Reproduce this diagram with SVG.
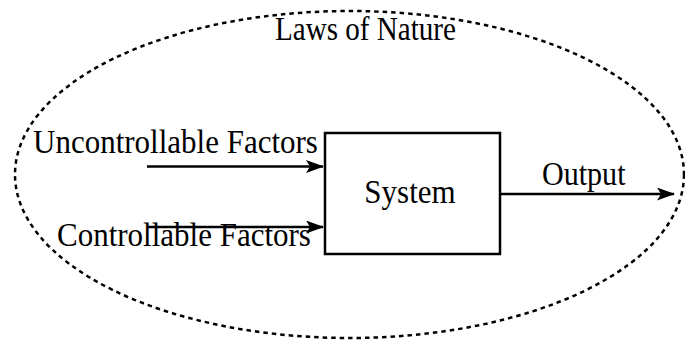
<svg xmlns="http://www.w3.org/2000/svg" width="685" height="341" viewBox="0 0 685 341">
  <style>
    text { font-family: "Liberation Serif", "Times New Roman", serif; font-size: 31px; fill: #000; }
    .title { font-size: 30px; }
    .edge { stroke: #000; stroke-width: 2.5; fill: none; }
    .box { stroke: #000; stroke-width: 2.5; fill: #fff; }
    .boundary { stroke: #000; stroke-width: 2.5; fill: none; stroke-dasharray: 4.5 4; }
  </style>
  <defs>
    <marker id="arrow" viewBox="0 0 18 13" refX="17" refY="6.5" markerWidth="18" markerHeight="13" markerUnits="userSpaceOnUse" orient="auto">
      <path d="M0,0 L18,6.5 L0,13 L4,6.5 Z" fill="#000"/>
    </marker>
  </defs>

  <rect width="685" height="341" fill="#fff"/>

  <!-- environment boundary -->
  <g id="laws-of-nature">
    <ellipse class="boundary" cx="349.5" cy="174.5" rx="334.5" ry="163.5"/>
    <text class="title" transform="translate(275 40) scale(0.97 1.15)">Laws of Nature</text>
  </g>

  <!-- central block -->
  <g id="system">
    <rect class="box" x="325" y="133" width="175" height="121"/>
    <text transform="translate(410 203) scale(1 1.12)" text-anchor="middle">System</text>
  </g>

  <g id="uncontrollable-factors">
    <text transform="translate(33 153) scale(1 1.12)">Uncontrollable Factors</text>
  </g>

  <g id="controllable-factors">
    <text transform="translate(57 246) scale(1 1.12)">Controllable Factors</text>
  </g>

  <g id="output">
    <text transform="translate(542 185) scale(0.97 1.12)">Output</text>
  </g>

  <!-- connectors -->
  <g id="connectors">
    <line class="edge" x1="147" y1="166.5" x2="323" y2="166.5" marker-end="url(#arrow)"/>
    <line class="edge" x1="147" y1="227" x2="323" y2="227" marker-end="url(#arrow)"/>
    <line class="edge" x1="500" y1="194" x2="674" y2="194" marker-end="url(#arrow)"/>
  </g>
</svg>
